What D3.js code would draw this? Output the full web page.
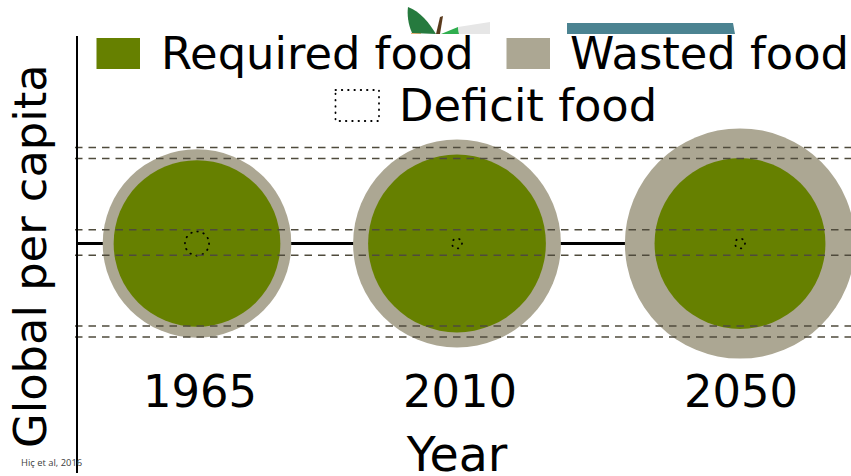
<!DOCTYPE html>
<html lang="en">
<head>
<meta charset="UTF-8">
<title>Global per capita food</title>
<script src="https://cdn.jsdelivr.net/npm/d3@7"></script>
<style>
  html, body { margin: 0; padding: 0; background: #fff; overflow: hidden; }
  text { font-family: "DejaVu Sans", sans-serif; fill: #000; }
</style>
</head>
<body>
<svg id="chart" width="851" height="476"></svg>
<script>
// values, arbitrary area units
const years = [1965, 2010, 2050]
const requiredFood = [69.5, 79, 73]
const wastedFood = [19.4, 29, 59.5]
const deficitFood = [1.45, 0.25, 0.25]
const referenceLevels = [-96, -85, -13.7, 11.8, 82.5, 93.5]

const legendLabels = ['Required food', 'Wasted food', 'Deficit food']
const yLabel = 'Global per capita'
const xLabel = 'Year'
const credit = 'Hiç et al, 2016'

const GREEN = '#668000'
const GREY = '#aca793'

const svg = d3.select('#chart')

// the years are not evenly spaced on the slide, so the scale is piecewise
const x = d3.scaleLinear().domain(years).range([197, 457, 740])
const y = d3.scaleLinear().domain([-100, 100]).range([143.5, 343.5])
const r = d3.scaleSqrt().domain([0, 100]).range([0, 100])

const AXIS_X = 77
const RIGHT = 851
const FONT_SIZE = 44.8

// clipped clip-art at the top edge
const art = svg.append('g')
art.append('path').attr('d', 'M411 33 L421 33 L421 34 L411 34 Z').attr('fill', '#f2b27a')
art.append('path').attr('d', 'M408 7 C420 11 430 24 436 34 L412 33 C408 24 407 14 408 7 Z').attr('fill', '#267a3e')
art.append('path').attr('d', 'M436 34 L440 17 L443 16 L440 34 Z').attr('fill', '#5a3a1c')
art.append('path').attr('d', 'M441 34 L458 27 L459 34 Z').attr('fill', '#2fae4e')
art.append('path').attr('d', 'M458 27 L490 22 L490 34 L459 34 Z').attr('fill', '#e6e6e6')
art.append('path').attr('d', 'M567 23 L733 23 L735 34 L567 34 Z').attr('fill', '#4b8391')

// baseline behind the circles
svg.append('line')
  .attr('x1', AXIS_X).attr('x2', RIGHT)
  .attr('y1', y(0)).attr('y2', y(0))
  .attr('stroke', '#000').attr('stroke-width', 3)

// circles
const rows = years.map((year, i) => ({
  year,
  required: requiredFood[i],
  total: requiredFood[i] + wastedFood[i],
  deficit: deficitFood[i]
}))

svg.selectAll('.total').data(rows).enter().append('circle')
  .attr('class', 'total')
  .attr('cx', d => x(d.year)).attr('cy', y(0))
  .attr('r', d => r(d.total))
  .attr('fill', GREY)

svg.selectAll('.required').data(rows).enter().append('circle')
  .attr('class', 'required')
  .attr('cx', d => x(d.year)).attr('cy', y(0))
  .attr('r', d => r(d.required))
  .attr('fill', GREEN)

svg.selectAll('.deficit').data(rows).enter().append('circle')
  .attr('class', 'deficit')
  .attr('cx', d => x(d.year)).attr('cy', y(0))
  .attr('r', d => r(d.deficit))
  .attr('fill', 'none')
  .attr('stroke', '#000').attr('stroke-width', 1.8)
  .attr('stroke-linecap', 'round')
  .attr('stroke-dasharray', '0.5 5.8')

// dashed reference levels, started just left of the axis to line up the dashes
svg.selectAll('.level').data(referenceLevels).enter().append('line')
  .attr('class', 'level')
  .attr('x1', 75).attr('x2', RIGHT)
  .attr('y1', d => y(d)).attr('y2', d => y(d))
  .attr('stroke', '#4f4b3c').attr('stroke-width', 1.5)
  .attr('stroke-dasharray', '7.5 6')

// y axis line
svg.append('line')
  .attr('x1', AXIS_X).attr('x2', AXIS_X)
  .attr('y1', 36).attr('y2', 473)
  .attr('stroke', '#000').attr('stroke-width', 2)

// year labels
svg.selectAll('.year').data(years).enter().append('text')
  .attr('class', 'year')
  .attr('x', (d, i) => x(d) + [3, 3, 1][i])
  .attr('y', 407)
  .attr('text-anchor', 'middle')
  .attr('font-size', FONT_SIZE)
  .text(d => d)

svg.append('text')
  .attr('x', 457).attr('y', 471)
  .attr('text-anchor', 'middle')
  .attr('font-size', 47.5)
  .text(xLabel)

svg.append('text')
  .attr('transform', 'translate(45.5,448) rotate(-90)')
  .attr('font-size', FONT_SIZE)
  .text(yLabel)

// legend
const legend = [
  { x: 96.5, y: 38, tx: 161, ty: 69, fill: GREEN },
  { x: 506.5, y: 38, tx: 570, ty: 69, fill: GREY },
  { x: 335.5, y: 90, tx: 399, ty: 121, fill: 'none' }
]
legend.forEach((d, i) => {
  const box = svg.append('rect')
    .attr('x', d.x).attr('y', d.y).attr('width', 43.5).attr('height', 31)
    .attr('fill', d.fill)
  if (d.fill === 'none') {
    box.attr('stroke', '#000').attr('stroke-width', 1.8)
      .attr('stroke-linecap', 'round').attr('stroke-dasharray', '0.5 5.8')
  }
  svg.append('text')
    .attr('x', d.tx).attr('y', d.ty)
    .attr('font-size', FONT_SIZE)
    .text(legendLabels[i])
})

svg.append('text')
  .attr('x', 21).attr('y', 466)
  .style('font-family', '"Open Sans", sans-serif')
  .style('fill', '#404040')
  .attr('font-size', 9.4)
  .text(credit)
</script>
</body>
</html>
